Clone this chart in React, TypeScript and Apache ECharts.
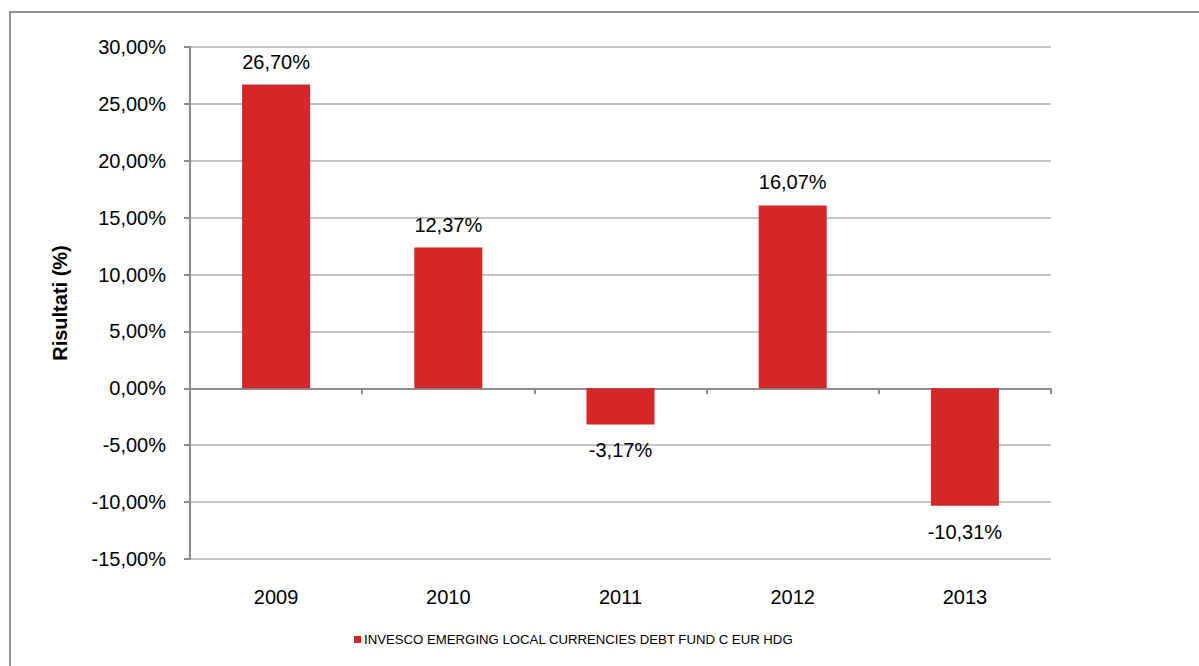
import React, { useEffect, useRef } from "react";
import * as echarts from "echarts";

const categories = ["2009", "2010", "2011", "2012", "2013"];
const seriesName = "INVESCO EMERGING LOCAL CURRENCIES DEBT FUND C EUR HDG";
const values = [26.7, 12.37, -3.17, 16.07, -10.31];
const yMin = -15;
const yMax = 30;
const yStep = 5;
const yTitle = "Risultati (%)";

const fmt = (v: number) => v.toFixed(2).replace(".", ",") + "%";

const FONT = "Arial, 'Liberation Sans', sans-serif";
const RED = "#D42728";
const AXIS = "#8c8c8c";
const GRID = "#c4c4c4";

export default function App() {
  const ref = useRef<HTMLDivElement>(null);
  useEffect(() => {
    if (!ref.current) return;
    const chart = echarts.init(ref.current, undefined, { renderer: "svg" });
    chart.setOption({
      animation: false,
      backgroundColor: "#ffffff",
      textStyle: { fontFamily: FONT },
      graphic: [
        {
          type: "rect",
          shape: { x: 10, y: 12, width: 1300, height: 800 },
          style: { fill: "none", stroke: "#8f8f8f", lineWidth: 2 },
          silent: true,
          z: -10,
        },
      ],
      grid: { left: 190, top: 47, right: 148, bottom: 107, containLabel: false },
      legend: {
        left: 349,
        top: 628,
        icon: "rect",
        itemWidth: 7,
        itemHeight: 7,
        itemGap: 10,
        textStyle: { fontSize: 13.2, color: "#000", fontFamily: FONT, padding: [0, 0, 0, -2] },
        data: [seriesName],
      },
      xAxis: [
        {
          type: "category",
          data: categories,
          position: "bottom",
          axisLine: { show: false, onZero: false },
          axisTick: { show: false },
          axisLabel: { fontSize: 20, color: "#000", margin: 28, fontFamily: FONT },
          splitLine: { show: false },
        },
        {
          type: "category",
          data: categories,
          position: "top",
          axisLine: { show: true, onZero: true, lineStyle: { color: AXIS, width: 2 } },
          axisTick: { show: true, inside: true, length: 6, lineStyle: { color: AXIS, width: 2 } },
          axisLabel: { show: false },
          splitLine: { show: false },
        },
      ],
      yAxis: {
        type: "value",
        min: yMin,
        max: yMax,
        interval: yStep,
        name: yTitle,
        nameLocation: "middle",
        nameRotate: 90,
        nameGap: 120,
        nameTextStyle: { fontSize: 20, fontWeight: "bold", color: "#000", fontFamily: FONT },
        axisLine: { show: true, lineStyle: { color: AXIS, width: 2 } },
        axisTick: { show: true, length: 6, lineStyle: { color: AXIS, width: 2 } },
        axisLabel: { fontSize: 20, color: "#000", margin: 24, formatter: (v: number) => fmt(v), fontFamily: FONT },
        splitLine: { show: true, lineStyle: { color: GRID, width: 2 } },
      },
      series: [
        {
          name: seriesName,
          type: "bar",
          xAxisIndex: 0,
          barWidth: 68,
          itemStyle: { color: RED },
          data: values.map((v) => ({
            value: v,
            label: {
              show: true,
              position: v >= 0 ? "top" : "bottom",
              distance: v >= 0 ? 13 : 16,
              fontSize: 20,
              color: "#000",
              fontFamily: FONT,
              formatter: () => fmt(v),
            },
          })),
        },
      ],
    });
    return () => chart.dispose();
  }, []);
  return (
    <div
      ref={ref}
      style={{ position: "fixed", left: 0, top: 0, width: 1199, height: 666, background: "#fff" }}
    />
  );
}
